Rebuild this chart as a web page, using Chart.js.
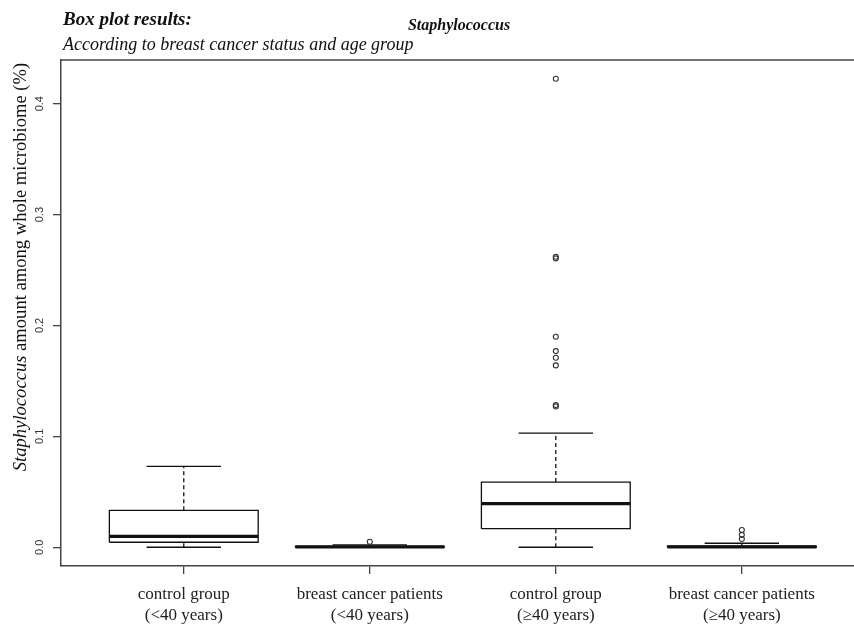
<!DOCTYPE html>
<html><head><meta charset="utf-8">
<script src="https://cdn.jsdelivr.net/npm/chart.js@4"></script>
<style>html,body{margin:0;padding:0;background:#fff;overflow:hidden}#wrap{width:854px;height:626px;position:relative}canvas{display:block}</style>
</head><body><div id="wrap"><canvas id="c" width="854" height="626"></canvas></div>
<script>
// ---- data ----
const categories = [
  ["control group", "(<40 years)"],
  ["breast cancer patients", "(<40 years)"],
  ["control group", "(\u226540 years)"],
  ["breast cancer patients", "(\u226540 years)"]
];
const lowerWhisker = [0, 0, 0, 0];
const q1 = [0.0045, 0.0, 0.0168, 0.0];
const median = [0.0099, 0.0003, 0.0394, 0.0003];
const q3 = [0.0333, 0.0008, 0.0588, 0.0009];
const upperWhisker = [0.073, 0.0022, 0.103, 0.0036];
const outliers = [
  [],
  [0.0050],
  [0.4225, 0.2620, 0.2605, 0.1898, 0.1769, 0.1709, 0.1640, 0.1282, 0.1270],
  [0.0155, 0.0112, 0.0074]
];
const yTicks = [0, 0.1, 0.2, 0.3, 0.4];
const xPositions = [1, 2, 3, 4];

// ---- build datasets ----
const BOX_HALF = 0.4, CAP_HALF = 0.2;
const datasets = [];
const lineDs = (pts, w, dash) => ({
  type: 'scatter', data: pts, showLine: true, borderColor: '#111', borderWidth: w,
  borderDash: dash || [], pointRadius: 0, fill: false, tension: 0
});
xPositions.forEach((x, i) => {
  datasets.push(lineDs([{x: x - BOX_HALF, y: median[i]}, {x: x + BOX_HALF, y: median[i]}], 3.2));
  datasets.push(lineDs([
    {x: x - BOX_HALF, y: q1[i]}, {x: x + BOX_HALF, y: q1[i]},
    {x: x + BOX_HALF, y: q3[i]}, {x: x - BOX_HALF, y: q3[i]},
    {x: x - BOX_HALF, y: q1[i]}], 1.3));
  datasets.push(lineDs([{x: x, y: q3[i]}, {x: x, y: upperWhisker[i]}], 1.3, [4, 3]));
  datasets.push(lineDs([{x: x, y: lowerWhisker[i]}, {x: x, y: q1[i]}], 1.3, [4, 3]));
  datasets.push(lineDs([{x: x - CAP_HALF, y: upperWhisker[i]}, {x: x + CAP_HALF, y: upperWhisker[i]}], 1.3));
  datasets.push(lineDs([{x: x - CAP_HALF, y: lowerWhisker[i]}, {x: x + CAP_HALF, y: lowerWhisker[i]}], 1.3));
});
const outlierPts = [];
xPositions.forEach((x, i) => outliers[i].forEach(v => outlierPts.push({x: x, y: v})));
datasets.unshift({
  type: 'scatter', data: outlierPts, showLine: false, pointStyle: 'circle',
  pointRadius: 2.5, backgroundColor: 'rgba(255,255,255,0)', borderColor: '#333', borderWidth: 1.1
});

const FRAME = '#444';
const decor = {
  id: 'decor',
  afterDraw(chart) {
    const ctx = chart.ctx, a = chart.chartArea;
    ctx.save();
    // top frame line
    ctx.strokeStyle = FRAME; ctx.lineWidth = 1.5;
    ctx.beginPath(); ctx.moveTo(a.left, a.top); ctx.lineTo(a.right, a.top); ctx.stroke();
    ctx.fillStyle = '#111';
    ctx.textBaseline = 'alphabetic';
    ctx.textAlign = 'left';
    ctx.font = 'italic bold 19px "Liberation Serif"';
    ctx.fillText('Box plot results:', 63, 25);
    ctx.font = 'italic 18px "Liberation Serif"';
    ctx.fillText('According to breast cancer status and age group', 63, 50);
    ctx.textAlign = 'center';
    ctx.font = 'italic bold 16px "Liberation Serif"';
    ctx.fillText('Staphylococcus', 459, 30);
    // y axis title
    ctx.translate(21, 267);
    ctx.rotate(-Math.PI / 2);
    ctx.textBaseline = 'middle';
    ctx.textAlign = 'left';
    const p1 = 'Staphylococcus', p2 = ' amount among whole microbiome (%)';
    const FS = '18.6px "Liberation Serif"';
    ctx.font = 'italic ' + FS;
    const w1 = ctx.measureText(p1).width;
    ctx.font = FS;
    const w2 = ctx.measureText(p2).width;
    const start = -(w1 + w2) / 2;
    ctx.font = 'italic ' + FS;
    ctx.fillText(p1, start, 0);
    ctx.font = FS;
    ctx.fillText(p2, start + w1, 0);
    ctx.restore();
  }
};

new Chart(document.getElementById('c'), {
  type: 'scatter',
  data: { datasets },
  options: {
    responsive: false, animation: false, devicePixelRatio: 1,
    layout: { autoPadding: false, padding: { top: 60, left: 0, right: 0, bottom: 0 } },
    plugins: { legend: { display: false }, tooltip: { enabled: false } },
    scales: {
      x: {
        type: 'linear', min: 0.34, max: 4.603,
        afterBuildTicks: s => { s.ticks = xPositions.map(v => ({ value: v })); },
        afterFit: s => { s.height = 60; s.paddingLeft = 0; s.paddingRight = 0; },
        grid: { display: true, drawOnChartArea: false, drawTicks: true, tickLength: 8, color: FRAME, lineWidth: 1.3 },
        border: { display: true, color: FRAME, width: 1.5 },
        ticks: {
          autoSkip: false, maxRotation: 0, minRotation: 0, padding: 10,
          color: '#222', font: { family: '"Liberation Serif"', size: 17, lineHeight: 1.25 },
          callback: v => categories[Math.round(v) - 1]
        }
      },
      y: {
        type: 'linear', min: -0.0169, max: 0.4394,
        afterBuildTicks: s => { s.ticks = yTicks.map(v => ({ value: v })); },
        afterFit: s => { s.width = 61; s.paddingTop = 0; s.paddingBottom = 0; },
        grid: { display: true, drawOnChartArea: false, drawTicks: true, tickLength: 8, color: FRAME, lineWidth: 1.3 },
        border: { display: true, color: FRAME, width: 1.5 },
        ticks: {
          minRotation: 90, maxRotation: 90, crossAlign: 'center', padding: 5,
          color: '#333', font: { family: '"Liberation Sans"', size: 11 },
          callback: v => v.toFixed(1)
        }
      }
    }
  },
  plugins: [decor]
});
</script></body></html>
